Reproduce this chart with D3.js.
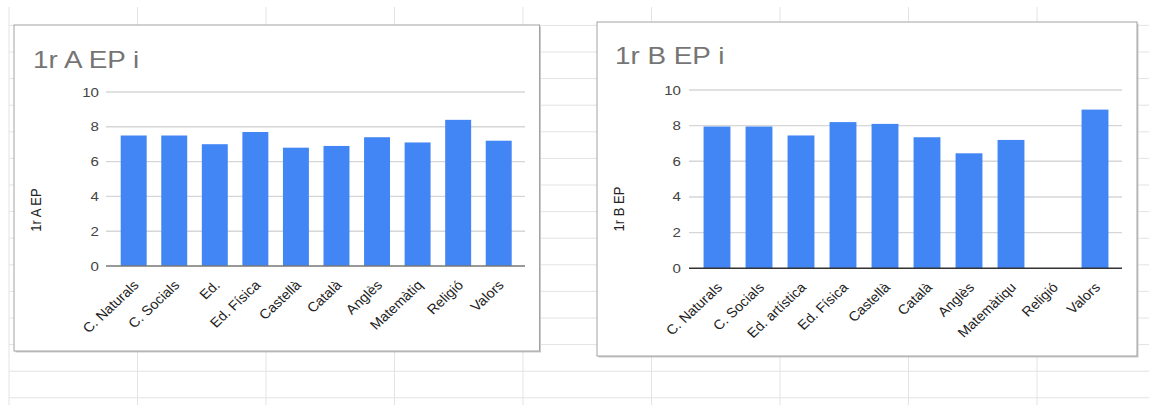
<!DOCTYPE html>
<html>
<head>
<meta charset="utf-8">
<script src="https://cdn.jsdelivr.net/npm/d3@7"></script>
<style>
  body { margin: 0; background: #fff; }
  svg { display: block; font-family: Arial, "Liberation Sans", sans-serif; }
</style>
</head>
<body>
<div id="sheet"></div>
<script>
// data
var subjectsA = ["C. Naturals", "C. Socials", "Ed.", "Ed. Física", "Castellà", "Català", "Anglès", "Matemàtiq", "Religió", "Valors"];
var valuesA = [7.5, 7.5, 7.0, 7.7, 6.8, 6.9, 7.4, 7.1, 8.4, 7.2];

var subjectsB = ["C. Naturals", "C. Socials", "Ed. artística", "Ed. Física", "Castellà", "Català", "Anglès", "Matemàtiqu", "Religió", "Valors"];
var valuesB = [7.95, 7.95, 7.45, 8.2, 8.1, 7.35, 6.45, 7.2, 0, 8.9];

var yTicks = [0, 2, 4, 6, 8, 10];
var titles = ["1r A EP i", "1r B EP i"];
var axisTitles = ["1r A EP", "1r B EP"];

var width = 1149,
    height = 405,
    sx = 1.16,   // the screenshot is a bit wider than tall
    sxLab = 1.07;

var svg = d3.select("#sheet")
  .append("svg")
  .attr("width", width)
  .attr("height", height);

// spreadsheet cells behind the charts
var cells = svg.append("g").attr("stroke", "#e3e3e3").attr("stroke-width", 1);
cells.selectAll(".row")
  .data(d3.range(15))
  .enter().append("line")
  .attr("x1", 9).attr("x2", width)
  .attr("y1", function(i){ return 25.4 + 26.6 * i; })
  .attr("y2", function(i){ return 25.4 + 26.6 * i; });
cells.selectAll(".col")
  .data(d3.range(9))
  .enter().append("line")
  .attr("y1", 7).attr("y2", height)
  .attr("x1", function(i){ return 9 + 128.5 * i; })
  .attr("x2", function(i){ return 9 + 128.5 * i; });

var layouts = [
  { box: [14, 25, 525.5, 326], title: [33, 68], y: [266, 92], grid: [106, 525], band: [113.4, 519], tickX: 99, axisT: [41, 210], base: "#777" },
  { box: [597, 22, 540, 334], title: [615, 63.5], y: [268.3, 90], grid: [689, 1122], band: [696, 1116], tickX: 681, axisT: [624, 209], base: "#333" }
];

function drawChart(L, subjects, values, title, axisTitle) {
  var g = svg.append("g");

  // card with a soft shadow
  g.append("rect")
    .attr("x", L.box[0] + 1.5).attr("y", L.box[1] + 1.5)
    .attr("width", L.box[2]).attr("height", L.box[3])
    .attr("fill", "#c9c9c9");
  g.append("rect")
    .attr("x", L.box[0]).attr("y", L.box[1])
    .attr("width", L.box[2]).attr("height", L.box[3])
    .attr("fill", "#fff").attr("stroke", "#a3a3a3").attr("stroke-width", 1);

  var x = d3.scaleBand()
    .domain(subjects)
    .range(L.band)
    .paddingInner(0.36)
    .paddingOuter(0.18);

  var y = d3.scaleLinear()
    .domain([0, 10])
    .range(L.y);

  g.append("text")
    .attr("transform", "translate(" + L.title[0] + "," + L.title[1] + ") scale(" + sx + ",1)")
    .attr("font-size", 24)
    .attr("fill", "#757575")
    .text(title);

  g.selectAll(".grid")
    .data(yTicks.filter(function(d){ return d > 0; }))
    .enter().append("line")
    .attr("x1", L.grid[0]).attr("x2", L.grid[1])
    .attr("y1", function(d){ return y(d); })
    .attr("y2", function(d){ return y(d); })
    .attr("stroke", "#d6d6d6")
    .attr("stroke-width", 1.4);

  g.selectAll(".ytick")
    .data(yTicks)
    .enter().append("text")
    .attr("transform", function(d){ return "translate(" + L.tickX + "," + (y(d) + 4.5) + ") scale(" + sx + ",1)"; })
    .attr("text-anchor", "end")
    .attr("font-size", 13)
    .attr("fill", "#444")
    .text(function(d){ return d; });

  g.append("text")
    .attr("transform", "translate(" + L.axisT[0] + "," + L.axisT[1] + ") scale(" + sx + ",1) rotate(-90)")
    .attr("text-anchor", "middle")
    .attr("font-size", 13)
    .attr("fill", "#222")
    .text(axisTitle);

  g.selectAll(".bar")
    .data(values)
    .enter().append("rect")
    .attr("x", function(d, i){ return x(subjects[i]); })
    .attr("width", x.bandwidth())
    .attr("y", function(d){ return y(d); })
    .attr("height", function(d){ return y(0) - y(d); })
    .attr("fill", "#4285f4");

  g.append("line")
    .attr("x1", L.grid[0]).attr("x2", L.grid[1])
    .attr("y1", y(0)).attr("y2", y(0))
    .attr("stroke", L.base)
    .attr("stroke-width", 1.6);

  g.selectAll(".xlab")
    .data(subjects)
    .enter().append("text")
    .attr("transform", function(d){
      return "translate(" + (x(d) + x.bandwidth() / 2 + 6) + "," + (y(0) + 20) + ") scale(" + sxLab + ",1) rotate(-45)";
    })
    .attr("text-anchor", "end")
    .attr("font-size", 13.5)
    .attr("fill", "#222")
    .text(function(d){ return d; });
}

drawChart(layouts[0], subjectsA, valuesA, titles[0], axisTitles[0]);
drawChart(layouts[1], subjectsB, valuesB, titles[1], axisTitles[1]);
</script>
</body>
</html>
